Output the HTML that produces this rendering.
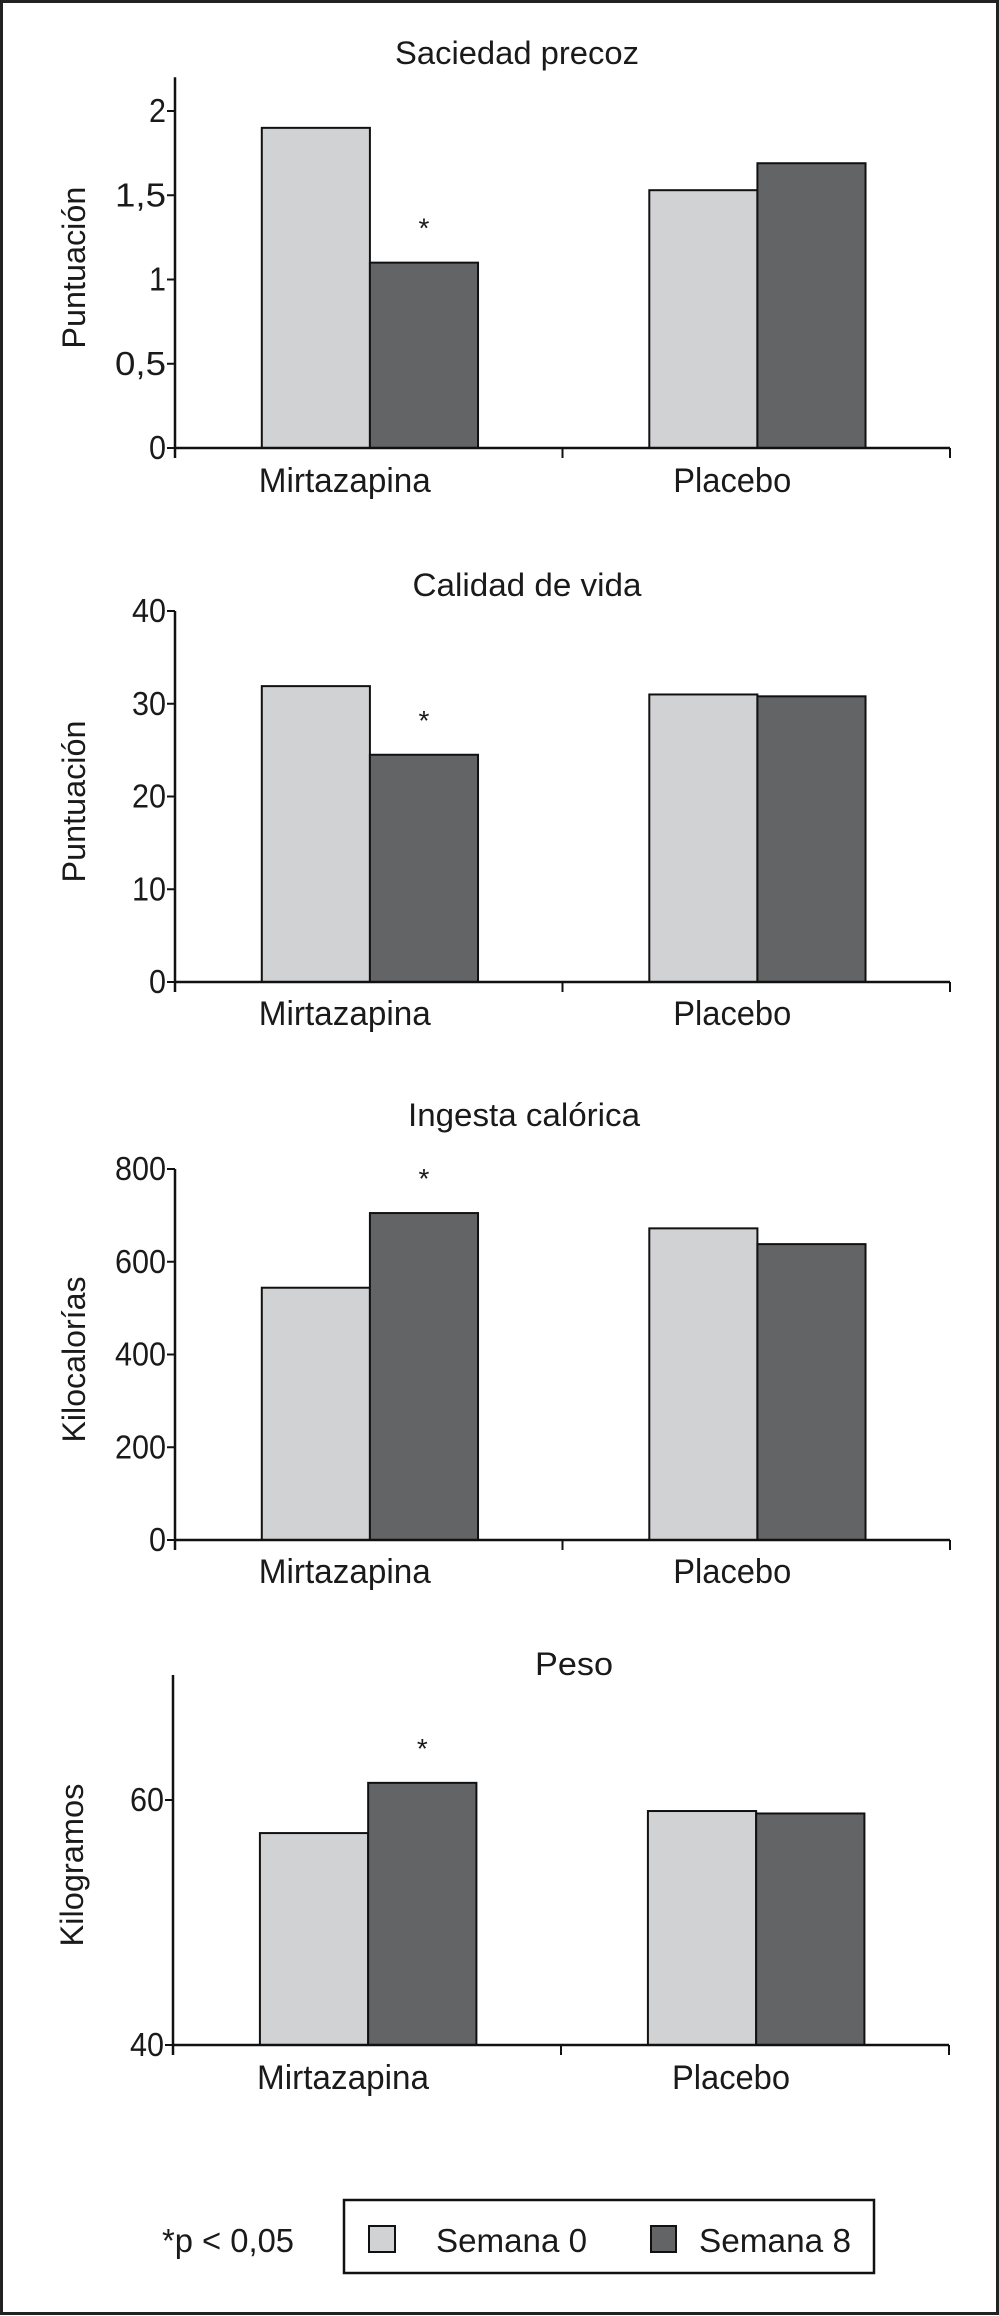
<!DOCTYPE html>
<html><head><meta charset="utf-8"><style>
html,body{margin:0;padding:0;background:#fff}
svg{display:block}
text{font-family:"Liberation Sans",sans-serif;fill:#1a1a1a}
</style></head><body>
<svg id="fig" width="999" height="2316" viewBox="0 0 999 2316" xmlns="http://www.w3.org/2000/svg">
<rect x="1.5" y="1.5" width="996" height="2312" fill="#fff" stroke="#222" stroke-width="3"/>
<g id="charts"></g>
<g>
<text x="162" y="2252" font-size="33" textLength="132" lengthAdjust="spacingAndGlyphs">*p &lt; 0,05</text>
<rect x="344" y="2200" width="530" height="73" fill="#fff" stroke="#111" stroke-width="2.5"/>
<rect x="369" y="2226" width="26" height="26" fill="#d1d2d4" stroke="#111" stroke-width="2"/>
<text x="436" y="2252" font-size="33" textLength="151" lengthAdjust="spacingAndGlyphs">Semana 0</text>
<rect x="651" y="2226" width="25" height="26" fill="#636466" stroke="#111" stroke-width="2"/>
<text x="699" y="2252" font-size="33" textLength="152" lengthAdjust="spacingAndGlyphs">Semana 8</text>
</g>
</svg>
<script>
const categories = ["Mirtazapina", "Placebo"];
const titles = ["Saciedad precoz", "Calidad de vida", "Ingesta calórica", "Peso"];
const yTitles = ["Puntuación", "Puntuación", "Kilocalorías", "Kilogramos"];
const semana0 = [[1.90, 1.53], [31.9, 31.0], [544, 672], [57.3, 59.1]];
const semana8 = [[1.10, 1.69], [24.5, 30.8], [705, 638], [61.4, 58.9]];
const tickValues = [[0, 0.5, 1, 1.5, 2], [0, 10, 20, 30, 40], [0, 200, 400, 600, 800], [40, 60]];
const tickLabels = [["0", "0,5", "1", "1,5", "2"], ["0", "10", "20", "30", "40"], ["0", "200", "400", "600", "800"], ["40", "60"]];
const yMin = [0, 0, 0, 40];
const yMax = [2.2, 40, 800, 70.2];
const significant = [[true, false], [true, false], [true, false], [true, false]];

// layout (pixel geometry, not data)
const layout = [
  {x0:175, x1:950, yBase:448, yTopVal:2, yTopPx:111, titleY:64, titleX:517, labelY:492, ytx:73},
  {x0:175, x1:950, yBase:982, yTopVal:40, yTopPx:611, titleY:596, titleX:527, labelY:1025, ytx:73},
  {x0:175, x1:950, yBase:1540, yTopVal:800, yTopPx:1169, titleY:1126, titleX:524, labelY:1583, ytx:73},
  {x0:173, x1:949, yBase:2045, yTopVal:60, yTopPx:1800, titleY:1675, titleX:574, labelY:2089, ytx:71}
];
const titleW = [244, 229, 232, 78];
const yTitleW = [162, 162, 166, 163];
const NS = "http://www.w3.org/2000/svg";
const root = document.getElementById("charts");
function mk(tag, attrs, parent){const e=document.createElementNS(NS,tag);for(const k in attrs)e.setAttribute(k,attrs[k]);parent.appendChild(e);return e;}
const catW = [172, 118];
for (let c = 0; c < 4; c++) {
  const L = layout[c];
  const g = mk("g", {}, root);
  
  
  const y = v => L.yBase - (v - yMin[c]) / (L.yTopVal - yMin[c]) * (L.yBase - L.yTopPx);
  const groupW = (L.x1 - L.x0) / 2;
  const bandX = i => L.x0 + groupW * i + groupW * 0.224;
  const barW = groupW * 0.279;
  const t = mk("text", {x:L.titleX, y:L.titleY, "font-size":32, "text-anchor":"middle", textLength:titleW[c], lengthAdjust:"spacingAndGlyphs"}, g);
  
  
  t.textContent = titles[c];
  for (let i = 0; i < categories.length; i++) {
    const vals = [semana0[c][i], semana8[c][i]];
    const fills = ["#d1d2d4", "#636466"];
    for (let s = 0; s < 2; s++) {
      const bx = bandX(i) + s * barW, by = y(vals[s]);
      const r = mk("rect", {x:bx, y:by, width:barW, height:L.yBase - by, fill:fills[s], stroke:"#111", "stroke-width":2}, g);
      
      
    }
    if (significant[c][i]) {
      const a = mk("text", {x:bandX(i) + barW*1.5, y:y(vals[1]) - 25, "font-size":28, "text-anchor":"middle"}, g);
      
      
      a.textContent = "*";
    }
    const cl = mk("text", {x:L.x0 + groupW*(i+0.5) - 24, y:L.labelY, "font-size":34, "text-anchor":"middle", textLength:catW[i], lengthAdjust:"spacingAndGlyphs"}, g);
    
    
    cl.textContent = categories[i];
  }
  const yTopAxis = y(yMax[c]);
  const ya = mk("line", {x1:L.x0, y1:yTopAxis, x2:L.x0, y2:L.yBase + 10, stroke:"#111", "stroke-width":2.5}, g);
  
  
  const xa = mk("line", {x1:L.x0, y1:L.yBase, x2:L.x1, y2:L.yBase, stroke:"#111", "stroke-width":2.5}, g);
  
  
  [L.x0 + groupW, L.x1].forEach(xx => {
    const tk = mk("line", {x1:xx, y1:L.yBase, x2:xx, y2:L.yBase + 10, stroke:"#111", "stroke-width":2}, g);
    
    
  });
  for (let k = 0; k < tickValues[c].length; k++) {
    const ty = y(tickValues[c][k]);
    const tk = mk("line", {x1:L.x0 - 8, y1:ty, x2:L.x0, y2:ty, stroke:"#111", "stroke-width":2}, g);
    
    
    const lab = tickLabels[c][k];
    const tl = mk("text", {x:L.x0 - 9, y:ty + 11, "font-size":33, "text-anchor":"end", textLength:lab.length*17, lengthAdjust:"spacingAndGlyphs"}, g);
    
    
    tl.textContent = lab;
  }
  const cy = (yTopAxis + L.yBase) / 2 + 5;
  const yt = mk("text", {x:L.ytx, y:cy, "font-size":32, "text-anchor":"middle", transform:"rotate(-90 "+L.ytx+" "+cy+")", dy:"12", textLength:yTitleW[c], lengthAdjust:"spacingAndGlyphs"}, g);
  
  
  yt.textContent = yTitles[c];
}
</script>
</body></html>
